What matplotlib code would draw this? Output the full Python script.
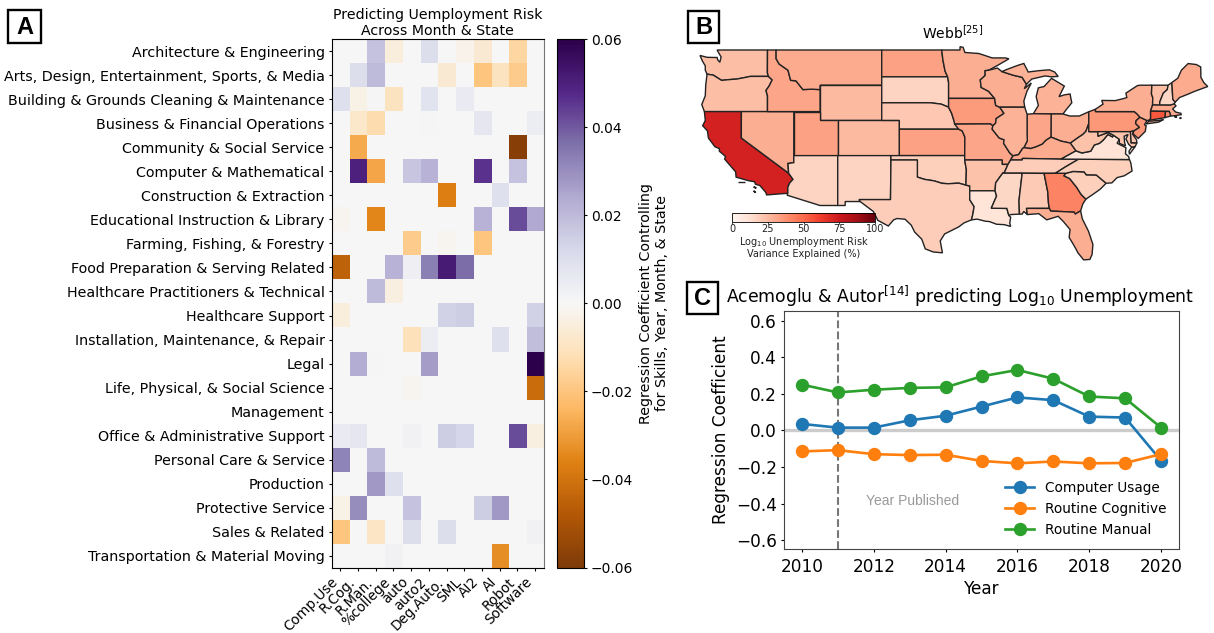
import numpy as np
import matplotlib
matplotlib.use('Agg')
import matplotlib.pyplot as plt
from matplotlib.patches import Polygon, Rectangle

W, H = 1214, 633

occupations = ['Architecture & Engineering', 'Arts, Design, Entertainment, Sports, & Media',
    'Building & Grounds Cleaning & Maintenance', 'Business & Financial Operations',
    'Community & Social Service', 'Computer & Mathematical', 'Construction & Extraction',
    'Educational Instruction & Library', 'Farming, Fishing, & Forestry',
    'Food Preparation & Serving Related', 'Healthcare Practitioners & Technical',
    'Healthcare Support', 'Installation, Maintenance, & Repair', 'Legal',
    'Life, Physical, & Social Science', 'Management', 'Office & Administrative Support',
    'Personal Care & Service', 'Production', 'Protective Service', 'Sales & Related',
    'Transportation & Material Moving']
measures = ['Comp.Use', 'R.Cog.', 'R.Man.', '%college', 'auto', 'auto2', 'Deg.Auto.',
            'SML', 'AI2', 'AI', 'Robot', 'Software']
coef = [
 [0,0,.018,-.005,0,.010,0,-.002,-.007,0,-.015,0],
 [0,.010,.020,0,0,0,-.007,0,-.020,-.010,-.018,0],
 [.009,-.003,.0005,-.010,0,.008,0,.005,0,0,0,0],
 [0,-.008,-.013,0,0,.0005,0,0,.007,0,0,.004],
 [0,-.027,0,0,0,0,0,0,0,0,-.058,0],
 [0,.050,-.028,0,.017,.022,0,0,.046,0,.018,0],
 [0,0,0,0,0,0,-.037,0,0,.009,0,0],
 [-.001,0,-.035,0,0,0,0,0,.022,0,.042,.024],
 [0,0,0,0,-.018,0,-.001,0,-.020,0,0,0],
 [-.045,0,0,.022,.003,.033,.052,.037,0,0,0,0],
 [0,0,.020,-.004,0,0,0,0,0,0,0,0],
 [-.005,0,0,0,0,0,.014,.015,0,0,0,.014],
 [0,0,0,0,-.011,.004,0,0,0,.009,0,.019],
 [0,.023,.0005,0,0,.027,0,0,0,0,0,.060],
 [0,0,0,0,-.001,0,0,0,0,0,0,-.042],
 [0,0,0,0,0,0,0,0,0,0,0,0],
 [.005,.007,0,0,.002,0,.015,.013,0,0,.042,-.004],
 [.032,0,.020,0,0,0,0,0,0,0,0,0],
 [0,0,.028,.009,0,0,0,0,0,0,0,0],
 [-.003,.030,0,0,.018,0,0,0,.015,.028,0,0],
 [-.020,0,-.009,0,.010,0,.010,0,0,0,0,.002],
 [0,0,0,.002,0,0,0,0,0,-.033,0,0],
]

years = [2010,2011,2012,2013,2014,2015,2016,2017,2018,2019,2020]
computer_usage = [.035,.015,.015,.055,.08,.13,.18,.165,.075,.07,-.165]
routine_cognitive = [-.115,-.108,-.13,-.135,-.133,-.167,-.18,-.17,-.18,-.178,-.13]
routine_manual = [.25,.207,.222,.232,.235,.295,.33,.282,.185,.175,.015]

state_values = dict(CA=72, WA=24, OR=24, ID=32, MT=30, WY=25, NV=29, UT=33, CO=25, AZ=17, NM=17,
    ND=33, SD=17, NE=21, KS=33, OK=18, TX=19, MN=29, IA=35, MO=32, AR=23, LA=10, WI=29, IL=28,
    IN=32, MI=28, OH=29, KY=30, TN=19, MS=16, AL=20, GA=42, FL=29, SC=18, NC=18, VA=11, WV=23,
    PA=36, NY=29, VT=24, NH=16, ME=30, MA=30, CT=55, RI=40, NJ=36, DE=22, MD=22)

# simplified state outlines, longitude / latitude
states = dict(
 WA=[(-124.7,48.38),(-123.9,48.17),(-123.1,48.15),(-122.75,48.15),(-122.7,47.9),(-122.45,47.6),(-122.3,48.2),(-122.76,49),(-117.03,49),(-117.04,46.4),(-116.92,46),(-118.98,46),(-119.3,45.93),(-120.5,45.7),(-121.2,45.65),(-122.25,45.55),(-122.8,45.9),(-123.2,46.15),(-123.9,46.25),(-124.1,46.7),(-124.1,47.2),(-124.4,47.7)],
 OR=[(-123.9,46.25),(-123.2,46.15),(-122.8,45.9),(-122.25,45.55),(-121.2,45.65),(-120.5,45.7),(-119.3,45.93),(-118.98,46),(-116.92,46),(-116.5,45.6),(-116.85,44.9),(-117.2,44.4),(-117.03,43.8),(-117.03,42),(-124.2,42),(-124.5,42.8),(-124.1,43.8),(-124.05,45)],
 CA=[(-124.2,42),(-120,42),(-120,39),(-114.63,35),(-114.13,34.3),(-114.5,33.9),(-114.72,33.4),(-114.72,32.72),(-117.12,32.53),(-117.25,32.85),(-117.9,33.6),(-118.4,33.75),(-118.5,34.03),(-119.2,34.15),(-120.6,34.55),(-120.65,35.15),(-121.9,36.6),(-121.8,36.9),(-122.5,37.5),(-122.5,37.8),(-123,38),(-123.75,39),(-123.85,39.8),(-124.4,40.4),(-124.1,41)],
 CA_I1=[(-120.4,34.05),(-119.6,34.05),(-119.6,33.95),(-120.4,33.95)],
 CA_I2=[(-118.6,33.45),(-118.3,33.35),(-118.4,33.3)],
 CA_I3=[(-118.6,33),(-118.35,32.8),(-118.5,32.85)],
 NV=[(-120,42),(-114.04,42),(-114.04,36.2),(-114.7,36.1),(-114.63,35),(-120,39)],
 ID=[(-117.03,49),(-116.05,49),(-116.05,48),(-115.7,47.4),(-114.7,46.7),(-114.4,45.55),(-113.8,45.5),(-113,44.5),(-112,44.55),(-111.05,44.5),(-111.05,42),(-117.03,42),(-117.03,43.8),(-117.2,44.4),(-116.85,44.9),(-116.5,45.6),(-116.92,46),(-117.04,46.4)],
 MT=[(-116.05,49),(-104.05,49),(-104.05,45),(-111.05,45),(-111.05,44.5),(-112,44.55),(-113,44.5),(-113.8,45.5),(-114.4,45.55),(-114.7,46.7),(-115.7,47.4),(-116.05,48)],
 WY=[(-111.05,45),(-104.05,45),(-104.05,41),(-111.05,41)],
 UT=[(-114.04,42),(-111.05,42),(-111.05,41),(-109.05,41),(-109.05,37),(-114.04,37)],
 CO=[(-109.05,41),(-102.05,41),(-102.05,37),(-109.05,37)],
 AZ=[(-114.04,37),(-109.05,37),(-109.05,31.33),(-111.07,31.33),(-114.8,32.5),(-114.72,32.72),(-114.72,33.4),(-114.5,33.9),(-114.13,34.3),(-114.63,35),(-114.7,36.1),(-114.04,36.2)],
 NM=[(-109.05,37),(-103,37),(-103.05,32),(-106.62,32),(-106.5,31.78),(-108.2,31.78),(-108.2,31.33),(-109.05,31.33)],
 ND=[(-104.05,49),(-97.23,49),(-97.1,47.9),(-96.85,46.6),(-96.56,45.95),(-104.05,45.95)],
 SD=[(-104.05,45.95),(-96.56,45.95),(-96.45,45.3),(-96.45,43.5),(-96.45,42.5),(-97.3,42.85),(-98.5,43),(-104.05,43)],
 NE=[(-104.05,43),(-98.5,43),(-97.3,42.85),(-96.45,42.5),(-96.1,41.8),(-95.85,41),(-95.3,40),(-102.05,40),(-102.05,41),(-104.05,41)],
 KS=[(-102.05,40),(-95.3,40),(-94.9,39.8),(-94.6,39.1),(-94.62,37),(-102.05,37)],
 OK=[(-103,37),(-94.62,37),(-94.62,36.5),(-94.43,35.4),(-94.48,33.64),(-95.3,33.87),(-96.5,33.8),(-97.2,33.85),(-98.1,34.13),(-99.2,34.3),(-100,34.56),(-100,36.5),(-103,36.5)],
 TX=[(-106.62,32),(-103.05,32),(-103,36.5),(-100,36.5),(-100,34.56),(-99.2,34.3),(-98.1,34.13),(-97.2,33.85),(-96.5,33.8),(-95.3,33.87),(-94.48,33.64),(-94.05,33.55),(-94.05,32),(-93.55,31.2),(-93.7,30.3),(-93.85,29.7),(-94.7,29.35),(-95.3,28.9),(-96.9,28.1),(-97.4,27.3),(-97.15,25.95),(-98.2,26.05),(-99.1,26.4),(-99.5,27.5),(-100.3,28.3),(-100.7,29.1),(-101.4,29.77),(-102.3,29.85),(-102.7,29.7),(-103.3,29),(-104.5,29.65),(-105,30.65),(-106.5,31.78)],
 MN=[(-97.23,49),(-95.15,49),(-95.15,49.38),(-94.8,49.3),(-94.6,48.72),(-93,48.6),(-91.5,48.1),(-90,48.1),(-89.6,48),(-90.8,47.3),(-91.9,46.7),(-92.3,46.65),(-92.3,46.1),(-92.85,45.6),(-92.75,44.75),(-91.9,44.3),(-91.22,43.5),(-96.45,43.5),(-96.45,45.3),(-96.56,45.95),(-96.85,46.6),(-97.1,47.9)],
 IA=[(-96.45,43.5),(-91.22,43.5),(-91.1,42.7),(-90.64,42.5),(-90.15,41.8),(-91.05,41.2),(-91.1,40.7),(-91.42,40.38),(-91.7,40.6),(-95.77,40.58),(-95.85,41),(-96.1,41.8),(-96.45,42.5)],
 MO=[(-95.77,40.58),(-91.7,40.6),(-91.42,40.38),(-91.5,40),(-90.7,39),(-90.15,38.8),(-90.2,38.4),(-89.5,37.3),(-89.13,36.98),(-89.4,36.5),(-89.7,36),(-90.37,36),(-90.37,36.5),(-94.62,36.5),(-94.62,37),(-94.6,39.1),(-94.9,39.8),(-95.3,40)],
 AR=[(-94.62,36.5),(-90.37,36.5),(-90.37,36),(-89.7,36),(-90.1,35.1),(-90.3,35),(-90.6,34.6),(-91.1,33.9),(-91.17,33),(-94.05,33),(-94.05,33.55),(-94.48,33.64),(-94.43,35.4)],
 LA=[(-94.05,33),(-91.17,33),(-91,32.4),(-91.6,31.02),(-89.83,31),(-89.6,30.18),(-89.4,30),(-89.5,29.3),(-89.4,28.95),(-90.1,29.15),(-91,29.2),(-91.8,29.5),(-92.3,29.55),(-93.2,29.78),(-93.85,29.7),(-93.7,30.3),(-93.55,31.2),(-94.05,32)],
 WI=[(-92.3,46.65),(-92.3,46.1),(-92.85,45.6),(-92.75,44.75),(-91.9,44.3),(-91.22,43.5),(-91.1,42.7),(-90.64,42.5),(-87.8,42.5),(-87.9,43.2),(-87.55,44.3),(-87.05,45.25),(-87.85,44.6),(-87.6,45.1),(-88.1,45.9),(-89.1,46.13),(-90.4,46.55),(-90.9,46.95),(-91.9,46.7)],
 MI_UP=[(-90.4,46.55),(-89.1,46.13),(-88.1,45.9),(-87.6,45.1),(-87,45.7),(-85.5,46.05),(-84.75,45.95),(-84,46),(-84.4,46.5),(-85,46.75),(-86.2,46.65),(-87.4,46.5),(-87.9,47.47),(-88.6,47.25),(-89.8,46.8)],
 MI=[(-86.82,41.76),(-84.8,41.73),(-83.45,41.73),(-83.1,42.2),(-82.45,43),(-82.65,44),(-83.3,43.9),(-83.9,43.7),(-83.3,44.9),(-84.75,45.78),(-85.6,44.85),(-86.25,44.7),(-86.5,43.7),(-86.25,42.7)],
 OH=[(-84.8,41.73),(-83.45,41.73),(-82.7,41.5),(-81.6,41.5),(-80.52,41.98),(-80.52,40.64),(-80.85,39.75),(-81.2,39.4),(-81.8,39),(-82.6,38.42),(-83.7,38.65),(-84.3,38.9),(-84.82,39.1)],
 IN=[(-87.53,41.7),(-86.82,41.76),(-84.8,41.73),(-84.82,39.1),(-85.4,38.73),(-85.8,38.3),(-86.5,38),(-87.1,37.8),(-87.9,37.9),(-87.5,38.7),(-87.53,39.4)],
 IL=[(-90.64,42.5),(-87.8,42.5),(-87.53,41.7),(-87.53,39.4),(-87.5,38.7),(-87.9,37.9),(-88.05,37.8),(-88.5,37.1),(-89.13,36.98),(-89.5,37.3),(-90.2,38.4),(-90.15,38.8),(-90.7,39),(-91.5,40),(-91.42,40.38),(-91.1,40.7),(-91.05,41.2),(-90.15,41.8)],
 KY=[(-89.4,36.5),(-89.13,36.98),(-88.5,37.1),(-88.05,37.8),(-87.9,37.9),(-87.1,37.8),(-86.5,38),(-85.8,38.3),(-85.4,38.73),(-84.82,39.1),(-84.3,38.9),(-83.7,38.65),(-82.6,38.42),(-81.97,37.54),(-83.68,36.6),(-88.07,36.68),(-88.07,36.5)],
 TN=[(-90.3,35),(-90.1,35.1),(-89.7,36),(-89.4,36.5),(-88.07,36.5),(-88.07,36.68),(-83.68,36.6),(-81.68,36.59),(-82.6,36.05),(-83.2,35.7),(-84.32,34.99),(-85.6,34.98),(-88.2,35)],
 MS=[(-91.17,33),(-91.1,33.9),(-90.6,34.6),(-90.3,35),(-88.2,35),(-88.1,34.9),(-88.45,31.9),(-88.4,30.35),(-89.4,30.3),(-89.6,30.18),(-89.83,31),(-91.6,31.02),(-91,32.4)],
 AL=[(-88.2,35),(-85.6,34.98),(-85.18,32.87),(-85.1,31.6),(-85,31),(-87.6,31),(-87.5,30.3),(-87.9,30.65),(-88.1,30.35),(-88.4,30.35),(-88.45,31.9),(-88.1,34.9)],
 GA=[(-85.6,34.98),(-84.32,34.99),(-83.1,35),(-83.35,34.7),(-82.7,34.4),(-81.9,33.4),(-81.4,32.6),(-80.85,32.05),(-81.2,31.5),(-81.45,30.72),(-82.05,30.36),(-82.2,30.57),(-84.86,30.7),(-85,31),(-85.1,31.6),(-85.18,32.87)],
 FL=[(-87.6,31),(-85,31),(-84.86,30.7),(-82.2,30.57),(-82.05,30.36),(-81.45,30.72),(-81.25,29.8),(-80.55,28.4),(-80.05,26.9),(-80.15,25.75),(-80.4,25.2),(-81.1,25.15),(-81.75,25.95),(-82.15,26.7),(-82.75,27.7),(-82.65,28.6),(-83.4,29.5),(-84,30.1),(-85.3,29.7),(-86.2,30.4),(-87.5,30.3)],
 SC=[(-83.1,35),(-82.3,35.2),(-81.05,35.15),(-80.8,34.82),(-79.67,34.8),(-78.55,33.86),(-79.2,33.2),(-79.9,32.7),(-80.85,32.05),(-81.4,32.6),(-81.9,33.4),(-82.7,34.4),(-83.35,34.7)],
 NC=[(-84.32,34.99),(-83.1,35),(-82.3,35.2),(-81.05,35.15),(-80.8,34.82),(-79.67,34.8),(-78.55,33.86),(-77.9,33.9),(-77.3,34.5),(-76.5,34.7),(-75.6,35.25),(-75.75,36.2),(-75.9,36.55),(-81.68,36.59),(-82.6,36.05),(-83.2,35.7)],
 VA=[(-83.68,36.6),(-81.97,37.54),(-81.3,37.3),(-80.3,37.5),(-79.9,38.2),(-79.3,38.4),(-78.87,38.77),(-78.35,39.4),(-77.83,39.13),(-77.72,39.32),(-77.05,38.85),(-77.3,38.4),(-76.3,37.9),(-76.35,37.2),(-76,36.9),(-75.9,36.55),(-81.68,36.59)],
 VA_ES=[(-75.65,37.95),(-75.25,38.03),(-75.9,37.15),(-75.95,37.5)],
 WV=[(-82.6,38.42),(-81.8,39),(-81.2,39.4),(-80.85,39.75),(-80.52,40.64),(-80.52,39.72),(-79.48,39.72),(-79.48,39.2),(-78.35,39.63),(-77.72,39.32),(-77.83,39.13),(-78.35,39.4),(-78.87,38.77),(-79.3,38.4),(-79.9,38.2),(-80.3,37.5),(-81.3,37.3),(-81.97,37.54)],
 PA=[(-80.52,41.98),(-79.76,42.27),(-79.76,42),(-75.35,42),(-75.05,41.75),(-74.7,41.36),(-75.13,40.98),(-75.2,40.65),(-74.75,40.2),(-75.4,39.8),(-75.79,39.72),(-80.52,39.72)],
 MD=[(-79.48,39.72),(-75.79,39.72),(-75.7,38.46),(-75.05,38.45),(-75.25,38.03),(-75.65,37.95),(-76,38.3),(-76.3,38.9),(-76.05,39.4),(-76.5,39.2),(-76.45,38.5),(-76.35,38.1),(-77.05,38.4),(-77.05,38.85),(-77.72,39.32),(-78.35,39.63),(-79.48,39.2)],
 DE=[(-75.79,39.72),(-75.4,39.8),(-75.55,39.45),(-75.1,38.8),(-75.05,38.45),(-75.7,38.46)],
 NJ=[(-74.7,41.36),(-73.9,40.99),(-74.2,40.5),(-74,40.4),(-74.1,39.75),(-74.9,38.95),(-75.5,39.5),(-75.4,39.8),(-74.75,40.2),(-75.2,40.65),(-75.13,40.98)],
 NY=[(-79.76,42),(-79.76,42.27),(-78.9,42.85),(-79.05,43.27),(-77.5,43.25),(-76.5,43.5),(-76.2,43.6),(-76.3,44.1),(-75,44.95),(-74.7,45),(-73.35,45),(-73.4,44),(-73.25,43.6),(-73.27,42.75),(-73.5,42.05),(-73.49,41.2),(-73.7,41),(-73.9,40.99),(-74.7,41.36),(-75.05,41.75),(-75.35,42)],
 NY_LI=[(-74,40.6),(-73.7,40.9),(-72.6,41),(-72,41.1),(-72.6,40.8)],
 VT=[(-73.35,45),(-71.5,45),(-71.6,44.5),(-72.05,44.1),(-72.45,43.1),(-72.46,42.73),(-73.27,42.75),(-73.25,43.6),(-73.4,44)],
 NH=[(-71.5,45),(-71.08,45.3),(-70.97,43.4),(-70.7,43.07),(-70.82,42.87),(-71.25,42.73),(-72.46,42.73),(-72.45,43.1),(-72.05,44.1),(-71.6,44.5)],
 ME=[(-71.08,45.3),(-70.4,45.8),(-70,46.7),(-69.23,47.46),(-68.3,47.35),(-67.8,47.07),(-67.78,45.9),(-67.45,45.3),(-67,44.85),(-68.5,44.3),(-69.2,44),(-70.2,43.6),(-70.7,43.07),(-70.97,43.4)],
 MA=[(-73.27,42.75),(-71.25,42.73),(-70.82,42.87),(-70.6,42.65),(-71,42.3),(-70.65,41.95),(-70.05,41.8),(-70,41.65),(-70.65,41.55),(-71.2,41.5),(-71.38,42.02),(-71.8,42.02),(-73.5,42.05)],
 MA_I1=[(-70.8,41.45),(-70.5,41.4),(-70.6,41.35)],
 MA_I2=[(-70.2,41.3),(-70,41.28),(-70.1,41.22)],
 CT=[(-73.5,42.05),(-71.8,42.02),(-71.85,41.32),(-73.7,41),(-73.49,41.2)],
 RI=[(-71.8,42.02),(-71.38,42.02),(-71.2,41.5),(-71.85,41.32)],
)
state_parent = dict(MI_UP='MI', VA_ES='VA', NY_LI='NY', MA_I1='MA', MA_I2='MA', CA_I1='CA', CA_I2='CA', CA_I3='CA')

fig = plt.figure(figsize=(W/100, H/100), dpi=100)
def axes_px(x0, y0, x1, y1, **kw):
    return fig.add_axes([x0/W, 1-y1/H, (x1-x0)/W, (y1-y0)/H], **kw)

# ---------- A ----------
axA = axes_px(331.5, 39, 544, 568)
im = axA.imshow(np.array(coef), cmap='PuOr', vmin=-.06, vmax=.06, aspect='auto', interpolation='nearest')
axA.set_yticks(range(len(occupations)), occupations, fontsize=10.25)
axA.set_xticks(range(len(measures)), measures, rotation=45, ha='right', fontsize=9.8)
axA.tick_params(axis='y', length=2.5, pad=2.5)
axA.tick_params(axis='x', length=2.5, pad=2.5)
axA.spines['right'].set_color('#777777')
axA.set_title('Predicting Uemployment Risk\nAcross Month & State', fontsize=10.2, pad=3, linespacing=1.2)
cax = axes_px(557, 39.3, 584, 567.5)
cb = fig.colorbar(im, cax=cax)
cb.set_ticks([-.06,-.04,-.02,0,.02,.04,.06])
cb.set_ticklabels(['\u22120.06','\u22120.04','\u22120.02','0.00','0.02','0.04','0.06'])
cb.ax.tick_params(labelsize=10, length=2.5, pad=2.5)
cb.set_label('Regression Coefficient Controlling\nfor Skills, Year, Month, & State', fontsize=10.25, labelpad=4)

# ---------- B ----------
axB = axes_px(700, 50, 1212, 262)
axB.set_xlim(-124.7, -124.7+512/8.8)
axB.set_ylim(49-212/8.8, 49)
axB.axis('off')
reds = plt.get_cmap('Reds')
for name, pts in states.items():
    key = state_parent.get(name, name)
    axB.add_patch(Polygon(pts, closed=True, facecolor=reds(state_values[key]/100), edgecolor='#222222', linewidth=1.0, clip_on=False))
fig.text(953/W, 1-33/H, 'Webb$^{[25]}$', ha='center', va='center', fontsize=10)
caxB = axes_px(732.3, 213, 875, 222)
sm = plt.cm.ScalarMappable(norm=plt.Normalize(0,100), cmap='Reds')
cbB = fig.colorbar(sm, cax=caxB, orientation='horizontal')
cbB.set_ticks([0,25,50,75,100])
cbB.ax.tick_params(labelsize=7, length=1.2, pad=0.5, width=.6, colors='#222222')
cbB.outline.set_linewidth(.6)
cbB.set_label('Log$_{10}$ Unemployment Risk\nVariance Explained (%)', fontsize=7, labelpad=0.5, linespacing=1.05, color='#222222')

# ---------- C ----------
axC = axes_px(784, 311, 1179, 549)
axC.axhline(0, color='#cccccc', lw=2.4, zorder=1)
axC.axvline(2011, color='#777777', lw=1.5, ls='--', zorder=1)
for vals, label in [(computer_usage,'Computer Usage'),(routine_cognitive,'Routine Cognitive'),(routine_manual,'Routine Manual')]:
    axC.plot(years, vals, '-o', ms=8.6, lw=1.9, label=label)
axC.set_xlim(2009.5, 2020.5)
axC.set_ylim(-.648, .652)
axC.set_xticks(range(2010,2021,2))
axC.set_yticks([-.6,-.4,-.2,0,.2,.4,.6])
axC.tick_params(axis='y', labelsize=12.2, length=2.5, pad=2.5)
axC.tick_params(axis='x', labelsize=12.2, length=2.5, pad=4)
for s in axC.spines.values():
    s.set_color('#444444')
axC.set_xlabel('Year', fontsize=12.2, labelpad=3)
axC.set_ylabel('Regression Coefficient', fontsize=12.2, labelpad=4.5)
fig.text(960.5/W, 1-303/H, 'Acemoglu & Autor$^{[14]}$ predicting Log$_{10}$ Unemployment', fontsize=12.4, ha='center', va='baseline')
axC.text(2013.09, -.384, 'Year Published', color='#999999', fontsize=10, ha='center', va='center', family='Liberation Sans')
axC.legend(loc='lower right', frameon=False, fontsize=9.85, handlelength=2.15)

# ---------- panel letters ----------
for letter, x0, y0, x1, y1 in [('A',8,10,41,43),('B',688,11,719,43),('C',687,282,718,314)]:
    fig.add_artist(Rectangle((x0/W,1-y1/H),(x1-x0)/W,(y1-y0)/H, transform=fig.transFigure, fill=False, ec='k', lw=1.7))
    fig.text((x0+x1)/2/W, 1-(y0+y1+1)/2/H, letter, ha='center', va='center', fontsize=17, family='Liberation Sans', weight='bold')

fig.savefig('out.png', dpi=100)
